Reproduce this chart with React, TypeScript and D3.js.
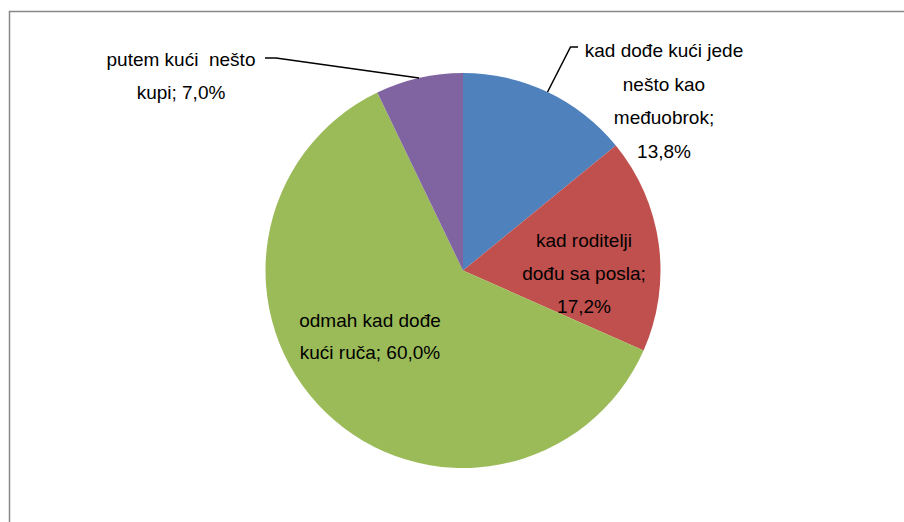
import React from "react";
import * as d3 from "d3";

const categories = [
  "kad dođe kući jede nešto kao međuobrok",
  "kad roditelji dođu sa posla",
  "odmah kad dođe kući ruča",
  "putem kući  nešto kupi",
];
const values = [13.8, 17.2, 60.0, 7.0];
const labelWraps = [
  ["kad dođe kući jede", "nešto kao", "međuobrok;"],
  ["kad roditelji", "dođu sa posla;"],
  ["odmah kad dođe", "kući ruča;"],
  ["putem kući  nešto", "kupi;"],
];
const valueOnNewLine = [true, true, false, false];
const colors = ["#4F81BD", "#C0504D", "#9BBB59", "#8064A2"];

// layout
const W = 904;
const H = 522;
const cx = 463;
const cy = 270.5;
const R = 197.5;
const labelPos = [
  { x: 664, y: 57, lh: 33.5 },
  { x: 584, y: 247.3, lh: 33 },
  { x: 370, y: 326.7, lh: 31.8 },
  { x: 181, y: 65.5, lh: 33.5 },
];
// leader lines: [elbow, end] for slices that have them
const leaders: Record<number, [number, number][]> = {
  0: [
    [570.5, 47],
    [578, 47],
  ],
  3: [
    [276, 58],
    [265, 58],
  ],
};

const fmt = (v: number) => v.toFixed(1).replace(".", ",") + "%";

export default function App() {
  const pie = d3.pie<number>().sort(null).value((d) => d);
  const arcs = pie(values);
  const arc = d3.arc<d3.PieArcDatum<number>>().innerRadius(0).outerRadius(R);

  return (
    <svg
      width={W}
      height={H}
      style={{ position: "absolute", left: 0, top: 0, display: "block" }}
      fontFamily="'Liberation Sans', Arial, sans-serif"
    >
      <rect x={0} y={0} width={W} height={H} fill="#fff" />
      <rect
        x={9.5}
        y={11.5}
        width={W + 50}
        height={H + 50}
        fill="none"
        stroke="#888"
        strokeWidth={1.5}
      />
      <g transform={`translate(${cx},${cy})`}>
        {arcs.map((a, i) => (
          <path key={i} d={arc(a) || ""} fill={colors[i]} />
        ))}
      </g>
      {arcs.map((a, i) => {
        const pts = leaders[i];
        if (!pts) return null;
        const mid = (a.startAngle + a.endAngle) / 2;
        const sx = cx + Math.sin(mid) * R;
        const sy = cy - Math.cos(mid) * R;
        const line = d3.line()([[sx, sy], ...pts]);
        return (
          <path key={"l" + i} d={line || ""} fill="none" stroke="#000" strokeWidth={1.5} />
        );
      })}
      {categories.map((c, i) => {
        const lines = labelWraps[i].slice();
        if (valueOnNewLine[i]) lines.push(fmt(values[i]));
        else lines[lines.length - 1] = lines[lines.length - 1] + " " + fmt(values[i]);
        const p = labelPos[i];
        return (
          <text
            key={"t" + i}
            x={p.x}
            y={p.y}
            textAnchor="middle"
            fontSize={19}
            fill="#000"
            style={{ whiteSpace: "pre" }}
          >
            {lines.map((ln, j) => (
              <tspan key={j} x={p.x} y={p.y + j * p.lh}>
                {ln}
              </tspan>
            ))}
          </text>
        );
      })}
    </svg>
  );
}
